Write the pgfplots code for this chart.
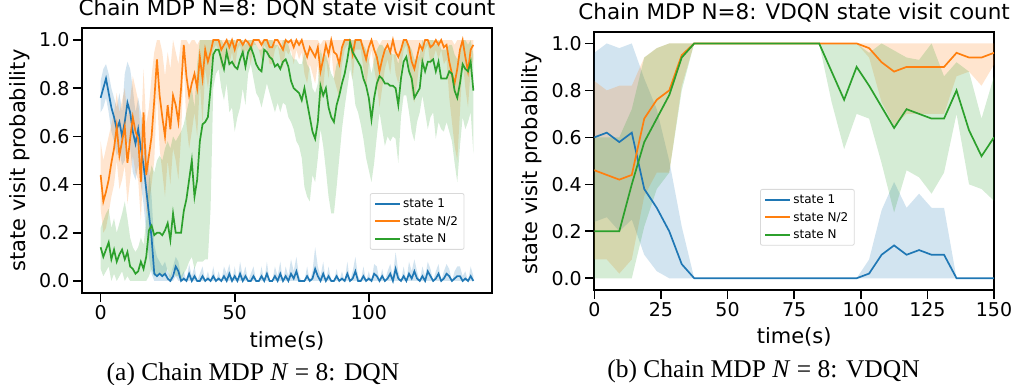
\documentclass[border=0pt]{standalone}
\usepackage{fontspec}
\setmainfont{DejaVu Sans}
\newfontfamily\capfont{Liberation Serif}
\usepackage{pgfplots}
\usepackage{pgfplotstable}
\pgfplotsset{compat=1.18}
\usepgfplotslibrary{fillbetween}
\definecolor{c1}{HTML}{1F77B4}
\definecolor{c2}{HTML}{FF7F0E}
\definecolor{c3}{HTML}{2CA02C}

\pgfplotstableread{
t b bl bu o ol ou g gl gu
0 .76 .70 .83 .44 .30 .58 .14 .05 .22
1 .80 .72 .88 .33 .20 .50 .10 .02 .25
2 .84 .76 .90 .37 .22 .55 .13 .04 .28
3 .78 .70 .86 .42 .28 .60 .16 .06 .30
4 .72 .62 .80 .49 .35 .65 .09 0 .22
5 .68 .58 .76 .55 .40 .70 .13 .03 .26
6 .63 .52 .72 .64 .50 .78 .08 0 .20
7 .66 .54 .78 .52 .38 .70 .11 .02 .24
8 .60 .48 .70 .58 .42 .75 .13 .04 .28
9 .66 .50 .86 .64 .48 .80 .09 0 .33
10 .74 .58 .91 .49 .32 .68 .12 .02 .26
11 .70 .55 .88 .59 .42 .75 .06 0 .18
12 .62 .45 .80 .68 .52 .85 .05 0 .14
13 .57 .42 .70 .62 .45 .80 .03 0 .12
14 .63 .48 .76 .59 .42 .75 .04 0 .14
15 .55 .40 .70 .41 .25 .60 .08 0 .18
16 .48 .32 .62 .70 .50 .88 .05 0 .15
17 .38 .20 .56 .44 .28 .65 .10 0 .25
18 .28 .10 .48 .52 .32 .72 .21 .02 .42
19 .18 .03 .35 .60 .40 .85 .23 .05 .48
20 .03 0 .15 .75 .50 .95 .19 .02 .45
21 .02 0 .10 .92 .78 1.0 .20 .02 .50
22 .03 0 .08 .77 .55 1.0 .20 .03 .52
23 .02 0 .06 .68 .45 .95 .19 .02 .50
24 .03 0 .08 .60 .35 .85 .21 .03 .55
25 .01 0 .04 .73 .50 .95 .24 .05 .58
26 0 0 .02 .63 .40 .88 .17 0 .55
27 .02 0 .06 .77 .55 1.0 .28 .05 .60
28 .06 .02 .10 .73 .50 .95 .20 .02 .58
29 .04 0 .08 .66 .42 .90 .20 .02 .60
30 0 0 .02 .80 .60 1.0 .20 0 .62
31 .01 0 .04 .98 .90 1.0 .29 .03 .65
32 0 0 0 .85 .65 1.0 .34 .05 .70
33 .03 0 .07 .77 .55 .98 .42 .08 .75
34 0 0 .02 .82 .62 1.0 .50 .10 .80
35 .02 0 .06 .86 .70 1.0 .35 .05 .72
36 0 0 0 .80 .60 .98 .42 .08 .90
37 0 0 .03 .93 .82 1.0 .58 .08 1.0
38 .02 0 .06 .84 .65 1.0 .65 .08 1.0
39 0 0 0 .96 .88 1.0 .66 .09 1.0
40 .01 0 .04 .91 .80 1.0 .68 .09 1.0
41 0 0 0 .95 .88 1.0 .80 .30 1.0
42 .02 0 .06 1.0 .96 1.0 .94 .80 1.0
43 0 0 0 1.0 .98 1.0 .96 .86 1.0
44 .01 0 .04 1.0 .96 1.0 .96 .88 1.0
45 0 0 0 .96 .88 1.0 .92 .80 1.0
46 .02 0 .06 .98 .92 1.0 .88 .75 .98
47 0 0 .03 1.0 .96 1.0 .95 .82 1.0
48 .03 0 .07 .97 .90 1.0 .90 .70 1.0
49 0 0 0 1.0 .95 1.0 .91 .72 1.0
50 .02 0 .06 .96 .88 1.0 .89 .62 1.0
51 0 0 0 1.0 .96 1.0 .88 .68 .98
52 .03 0 .08 1.0 .98 1.0 .92 .72 1.0
53 0 0 .02 .98 .92 1.0 .95 .80 1.0
54 .02 0 .06 1.0 .96 1.0 .89 .73 .98
55 0 0 0 .99 .95 1.0 .95 .86 1.0
56 0 0 .03 .97 .90 1.0 .97 .90 1.0
57 .02 0 .06 1.0 .98 1.0 .94 .84 1.0
58 0 0 0 1.0 .98 1.0 .90 .78 .98
59 0 0 0 1.0 .96 1.0 .88 .76 .96
60 .02 0 .06 .98 .92 1.0 .87 .72 .96
61 0 0 0 1.0 .98 1.0 .96 .77 1.0
62 .03 0 .08 1.0 .96 1.0 .95 .82 1.0
63 0 0 0 .97 .90 1.0 .93 .78 1.0
64 0 0 0 .97 .90 1.0 .92 .74 1.0
65 .02 0 .06 1.0 .96 1.0 .89 .70 .98
66 0 0 .02 1.0 .98 1.0 .90 .74 .98
67 .03 0 .08 .98 .92 1.0 .88 .70 .96
68 0 0 0 .96 .88 1.0 .91 .74 1.0
69 .02 0 .06 1.0 .96 1.0 .92 .73 1.0
70 0 0 .02 .99 .94 1.0 .89 .68 .98
71 .03 0 .09 1.0 .96 1.0 .83 .66 .94
72 .01 0 .04 .97 .90 1.0 .80 .63 .92
73 .04 0 .10 1.0 .96 1.0 .79 .58 .92
74 0 0 .02 .98 .92 1.0 .78 .56 .90
75 0 0 0 1.0 .95 1.0 .75 .51 .90
76 0 0 0 .96 .86 1.0 .80 .39 .95
77 .02 0 .06 .93 .82 1.0 .74 .35 .90
78 0 0 0 .97 .90 1.0 .68 .33 .88
79 .01 0 .04 .95 .86 1.0 .62 .44 .80
80 .05 0 .14 .93 .82 1.0 .59 .41 .78
81 .02 0 .06 .97 .90 1.0 .66 .51 .82
82 0 0 .02 .87 .74 .98 .81 .63 .96
83 .03 0 .08 .92 .80 1.0 .77 .56 .92
84 0 0 0 .98 .92 1.0 .80 .46 .94
85 .02 0 .06 .94 .84 1.0 .72 .35 .90
86 0 0 0 1.0 .96 1.0 .68 .28 .86
87 0 0 0 .95 .84 1.0 .66 .28 .84
88 .02 0 .05 .94 .80 1.0 .73 .39 .90
89 0 0 0 .90 .76 1.0 .77 .51 .92
90 .01 0 .04 .97 .90 1.0 .82 .63 .96
91 0 0 0 1.0 .96 1.0 .86 .72 1.0
92 .03 0 .08 1.0 .98 1.0 .92 .80 1.0
93 0 0 0 1.0 .98 1.0 .99 .88 1.0
94 .01 0 .04 .94 .84 1.0 .95 .83 1.0
95 .04 0 .10 1.0 .96 1.0 .93 .73 1.0
96 0 0 .02 1.0 .96 1.0 .91 .70 1.0
97 0 0 0 1.0 .96 1.0 .89 .65 1.0
98 .02 0 .06 .96 .88 1.0 .84 .59 .98
99 0 0 0 .92 .80 1.0 .81 .51 .96
100 .01 0 .04 .97 .90 1.0 .76 .46 .92
101 0 0 0 1.0 .96 1.0 .67 .41 .86
102 .03 0 .07 .96 .88 1.0 .76 .49 .92
103 .02 0 .06 .93 .82 1.0 .82 .60 .96
104 0 0 0 .87 .72 .98 .85 .70 .98
105 .02 0 .05 .92 .80 1.0 .84 .63 .98
106 0 0 0 .96 .88 1.0 .82 .56 .96
107 .01 0 .04 .98 .92 1.0 .82 .60 .96
108 .03 0 .07 .95 .86 1.0 .81 .58 .95
109 0 0 .02 1.0 .96 1.0 .81 .60 .94
110 .05 0 .12 .95 .86 1.0 .80 .59 .94
111 .01 0 .04 .93 .82 1.0 .73 .49 .90
112 0 0 0 .96 .88 1.0 .84 .68 .96
113 .02 0 .06 1.0 .96 1.0 .91 .77 1.0
114 0 0 0 1.0 .98 1.0 .93 .77 1.0
115 .03 0 .08 .97 .90 1.0 .87 .70 .98
116 .01 0 .04 .91 .78 1.0 .84 .62 .96
117 .04 0 .09 .88 .74 1.0 .76 .58 .92
118 .01 0 .04 .93 .82 1.0 .78 .66 .92
119 0 0 0 .98 .92 1.0 .80 .70 .94
120 .02 0 .06 .96 .88 1.0 .91 .77 1.0
121 0 0 .02 1.0 .96 1.0 .87 .70 .98
122 .04 0 .08 1.0 .98 1.0 .91 .63 1.0
123 .02 0 .05 .97 .90 1.0 .91 .68 1.0
124 0 0 0 .98 .92 1.0 .92 .70 1.0
125 .01 0 .04 1.0 .96 1.0 .87 .59 .98
126 .03 0 .07 .98 .92 1.0 .91 .66 1.0
127 0 0 0 1.0 .96 1.0 .84 .63 .96
128 .01 0 .04 .97 .90 1.0 .84 .62 .96
129 .03 0 .07 .98 .92 1.0 .84 .66 .96
130 .02 0 .05 .91 .76 1.0 .87 .62 .98
131 0 0 0 .86 .66 1.0 .86 .58 .98
132 .01 0 .04 .82 .56 .98 .79 .49 .94
133 .02 0 .06 .88 .50 1.0 .76 .41 .92
134 .02 0 .06 .96 .70 1.0 .82 .56 .96
135 0 0 .02 1.0 .92 1.0 .90 .68 1.0
136 .01 0 .04 .93 .80 1.0 .88 .63 1.0
137 0 0 0 .87 .72 1.0 .87 .66 .98
138 .02 0 .06 .96 .88 1.0 .91 .70 1.0
139 0 0 .02 .98 .92 1.0 .79 .53 .94
}\dqn

\pgfplotstableread{
t b bl bu o ol ou g gl gu
0 .60 .24 .96 .46 .08 .84 .20 0 .60
4.6875 .62 .26 1.0 .44 .08 .80 .20 0 .60
9.375 .58 .20 .98 .42 .02 .82 .20 0 .60
14.0625 .62 .25 1.0 .44 .08 .82 .40 0 .72
18.75 .38 .10 .85 .68 .35 .94 .58 .22 .94
23.4375 .30 .03 .72 .76 .45 .98 .68 .38 .98
28.125 .20 0 .50 .80 .45 1.0 .78 .45 1.0
32.8125 .06 0 .22 .95 .82 1.0 .94 .80 1.0
37.5 0 0 0 1 1 1 1 1 1
42.1875 0 0 0 1 1 1 1 1 1
46.875 0 0 0 1 1 1 1 1 1
51.5625 0 0 0 1 1 1 1 1 1
56.25 0 0 0 1 1 1 1 1 1
60.9375 0 0 0 1 1 1 1 1 1
65.625 0 0 0 1 1 1 1 1 1
70.3125 0 0 0 1 1 1 1 1 1
75 0 0 0 1 1 1 1 1 1
79.6875 0 0 0 1 1 1 1 1 1
84.375 0 0 0 1 1 1 1 1 1
89.0625 0 0 0 1 1 1 .88 .75 1.0
93.75 0 0 0 1 1 1 .76 .55 1.0
98.4375 0 0 0 1.0 1.0 1.0 .90 .70 1.0
103.125 .02 0 .08 .98 .94 1.0 .82 .68 .96
107.8125 .10 0 .29 .92 .75 1.0 .73 .49 1.0
112.5 .14 0 .41 .88 .65 1.0 .64 .28 .97
117.1875 .10 0 .30 .90 .70 1.0 .72 .46 .94
121.875 .12 0 .36 .90 .70 1.0 .70 .43 .93
126.5625 .10 0 .30 .90 .70 1.0 .68 .36 1.0
131.25 .10 0 .30 .90 .70 1.0 .68 .45 .86
135.9375 0 0 0 .96 .86 1.0 .80 .70 .92
140.625 0 0 0 .94 .88 1.0 .63 .40 .88
145.3125 0 0 0 .94 .82 1.0 .52 .38 .68
150 0 0 0 .96 .91 1.0 .60 .33 .86
}\vdqn

\pgfplotsset{
  myaxis/.style={
    scale only axis,
    anchor=south west,
    axis line style={line width=2.2pt},
    tick style={line width=1.6pt, black},
    tick align=outside,
    major tick length=9pt,
    xtick pos=lower, ytick pos=left,
    ymin=-0.05, ymax=1.05,
    ytick={0,0.2,0.4,0.6,0.8,1.0},
    yticklabel style={/pgf/number format/.cd,fixed,fixed zerofill,precision=1},
    /pgf/number format/assume math mode=true,
    tick label style={font=\fontsize{19}{22}\selectfont},
    label style={font=\fontsize{21}{24}\selectfont},
    xlabel={time(s)},
    ylabel={state visit probability},
    title style={font=\fontsize{21.5}{24}\selectfont, at={(0.5,1)}, anchor=base, yshift=6pt},
    legend style={font=\fontsize{12}{14}\selectfont, draw=black!15, line width=0.8pt, rounded corners=2pt,
      fill=white, fill opacity=0.8, text opacity=1, anchor=north west,
      row sep=3.5pt, inner xsep=4pt, inner ysep=3pt},
    legend cell align=left,
    legend image code/.code={\draw[#1, line width=2pt] (0pt,0pt) -- (25pt,0pt);},
  }
}

\begin{document}
\begin{tikzpicture}
\begin{axis}[myaxis, at={(82pt,92pt)}, width=410pt, height=265pt,
  xmin=-6.95, xmax=145.95, xtick={0,50,100},
  title={Chain MDP N=8: DQN state visit count},
  xlabel style={at={(axis description cs:0.5,-0.2075)}, anchor=base},
  ylabel style={at={(axis description cs:-0.139,0.5)}, anchor=base},
  legend style={at={(0.702,0.377)}}]
\addplot[name path=A1, draw=none, forget plot] table[x=t,y=bu]{\dqn};
\addplot[name path=A2, draw=none, forget plot] table[x=t,y=bl]{\dqn};
\addplot[fill=c1, fill opacity=0.2, draw=none, forget plot] fill between[of=A1 and A2];
\addplot[c1, line width=1.7pt] table[x=t,y=b]{\dqn};
\addlegendentry{state 1}
\addplot[name path=A3, draw=none, forget plot] table[x=t,y=ou]{\dqn};
\addplot[name path=A4, draw=none, forget plot] table[x=t,y=ol]{\dqn};
\addplot[fill=c2, fill opacity=0.2, draw=none, forget plot] fill between[of=A3 and A4];
\addplot[c2, line width=1.7pt] table[x=t,y=o]{\dqn};
\addlegendentry{state N/2}
\addplot[name path=A5, draw=none, forget plot] table[x=t,y=gu]{\dqn};
\addplot[name path=A6, draw=none, forget plot] table[x=t,y=gl]{\dqn};
\addplot[fill=c3, fill opacity=0.2, draw=none, forget plot] fill between[of=A5 and A6];
\addplot[c3, line width=1.7pt] table[x=t,y=g]{\dqn};
\addlegendentry{state N}
\end{axis}

\begin{axis}[myaxis, at={(594.3pt,95pt)}, width=399.7pt, height=258.3pt,
  xmin=0, xmax=150, xtick={0,25,50,75,100,125,150},
  title={Chain MDP N=8: VDQN state visit count},
  xlabel style={at={(axis description cs:0.5,-0.206)}, anchor=base},
  ylabel style={at={(axis description cs:-0.143,0.49)}, anchor=base},
  legend style={at={(0.4146,0.391)}}]
\addplot[name path=B1, draw=none, forget plot] table[x=t,y=bu]{\vdqn};
\addplot[name path=B2, draw=none, forget plot] table[x=t,y=bl]{\vdqn};
\addplot[fill=c1, fill opacity=0.2, draw=none, forget plot] fill between[of=B1 and B2];
\addplot[c1, line width=1.7pt] table[x=t,y=b]{\vdqn};
\addlegendentry{state 1}
\addplot[name path=B3, draw=none, forget plot] table[x=t,y=ou]{\vdqn};
\addplot[name path=B4, draw=none, forget plot] table[x=t,y=ol]{\vdqn};
\addplot[fill=c2, fill opacity=0.2, draw=none, forget plot] fill between[of=B3 and B4];
\addplot[c2, line width=1.7pt] table[x=t,y=o]{\vdqn};
\addlegendentry{state N/2}
\addplot[name path=B5, draw=none, forget plot] table[x=t,y=gu]{\vdqn};
\addplot[name path=B6, draw=none, forget plot] table[x=t,y=gl]{\vdqn};
\addplot[fill=c3, fill opacity=0.2, draw=none, forget plot] fill between[of=B5 and B6];
\addplot[c3, line width=1.7pt] table[x=t,y=g]{\vdqn};
\addlegendentry{state N}
\end{axis}

\node[anchor=base] at (253pt,5pt) {\capfont\fontsize{25.5}{28}\selectfont (a) Chain MDP \textit{N} = 8: DQN};
\node[anchor=base] at (763.5pt,8pt) {\capfont\fontsize{25.5}{28}\selectfont (b) Chain MDP \textit{N} = 8: VDQN};
\pgfresetboundingbox
\path[use as bounding box] (0,0) rectangle (1016pt,385pt);
\end{tikzpicture}
\end{document}
